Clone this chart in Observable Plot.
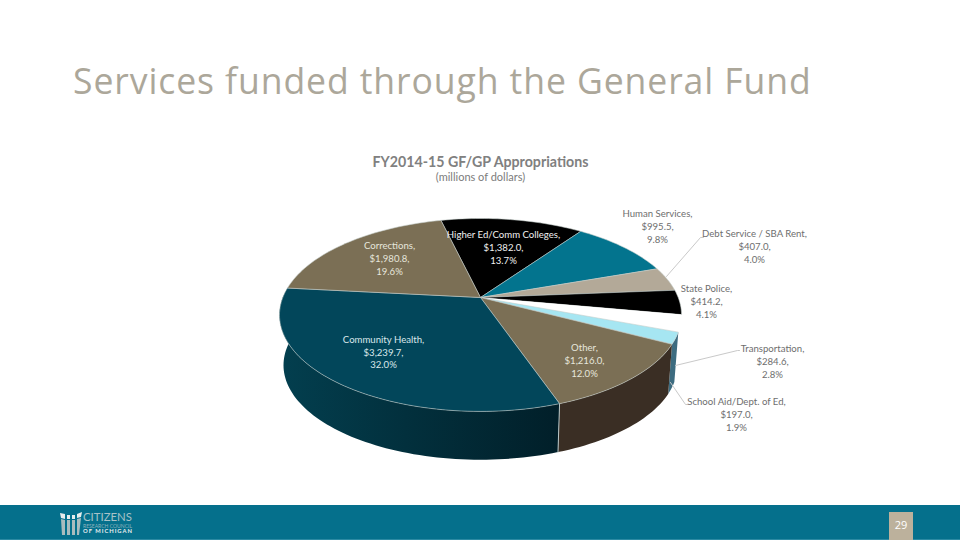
<!DOCTYPE html>
<html>
<head>
<meta charset="utf-8">
<script src="https://cdn.jsdelivr.net/npm/d3@7"></script>
<script src="https://cdn.jsdelivr.net/npm/@observablehq/plot@0.6"></script>
<style>
html,body{margin:0;padding:0;background:#fff;width:960px;height:540px;overflow:hidden}
#stage{position:relative;width:960px;height:540px}
#chart{position:absolute;left:0;top:0}
#chart svg{display:block;max-width:none}
h1{position:absolute;left:73px;top:56px;margin:0;font:400 35.6px "Open Sans",sans-serif;letter-spacing:.9px;color:#aca79a;white-space:nowrap}
#band{position:absolute;left:0;top:505px;width:960px;height:35px;background:#05708c;border-bottom:1px solid #2c8aa3;box-sizing:border-box}
#page{position:absolute;left:889px;top:512px;width:24px;height:28px;background:#bcb19c;color:#fff;font:11px "Open Sans",sans-serif;text-align:center;line-height:26px}
#logo{position:absolute;left:59px;top:511px;overflow:visible}
</style>
</head>
<body>
<div id="stage">
  <h1>Services funded through the General Fund</h1>
  <div id="band"></div>
  <div id="page">29</div>
  <svg id="logo" width="80" height="26" viewBox="0 0 80 26">
    <g fill="#a9bcbe">
      <path d="M2 8 L6 9 L6 24 L3 24Z"/>
      <path d="M8 9 L11 9 L11 24 L8 24Z"/>
      <path d="M13 9 L16 9 L16 24 L13 24Z"/>
      <path d="M18 8 L22 7 L20 24 L18 24Z"/>
    </g>
    <g fill="#e6ecec">
      <path d="M1 2 L6 3 L6 8 L2 7Z"/>
      <path d="M8 4 L11 4 L11 8 L8 8Z"/>
      <path d="M13 4 L16 4 L16 8 L13 8Z"/>
      <path d="M18 3 L23 1 L22 6 L18 7Z"/>
    </g>
    <text x="24" y="10" textLength="49" lengthAdjust="spacingAndGlyphs" font-family="Lato" font-size="10.5" fill="#a8c2c8">CITIZENS</text>
    <text x="24" y="16.8" textLength="49" lengthAdjust="spacingAndGlyphs" font-family="Lato" font-size="5" fill="#8db3bd">RESEARCH COUNCIL</text>
    <text x="24" y="22" textLength="49" font-family="Lato" font-weight="700" font-size="5.8" fill="#e9eeef">OF MICHIGAN</text>
  </svg>
  <div id="chart"></div>
</div>
<script>
// ---- data ----
const categories = ["Higher Ed/Comm Colleges","Human Services","Debt Service / SBA Rent","State Police","Transportation","School Aid/Dept. of Ed","Other","Community Health","Corrections"];
const dollars = [1382.0,995.5,407.0,414.2,284.6,197.0,1216.0,3239.7,1980.8];
const percents = [13.7,9.8,4.0,4.1,2.8,1.9,12.0,32.0,19.6];
const topColors = ["#000000","#03748e","#b3a998","#000000","#ffffff","#a6e6f2","#7b6f55","#02465a","#7b6f55"];
const wallColors = [null,null,null,null,"#ffffff","#3d6c80","#3a2e24","url(#wallGrad)",null];
const textColors = ["#f0f0f0","#6e6e6e","#6e6e6e","#6e6e6e","#6e6e6e","#6e6e6e","#e6e6dc","#d9e6ea","#e6e6dc"];
// label block centres and leader lines (page layout)
const labelX = [503,657,754,706,772,736,584,383,389];
const labelY = [246.5,225.5,245.5,300.5,360.5,413.5,359.5,351,257.5];
const leaders = [
  {name:"Debt Service / SBA Rent",x:[666,700,703],y:[276,237,237]},
  {name:"Transportation",x:[675,737,739],y:[365,350,350]},
  {name:"School Aid/Dept. of Ed",x:[670,685,687],y:[382,404,404]}
];
const chartTitle = "FY2014-15 GF/GP Appropriations";
const chartSubtitle = "(millions of dollars)";

// ---- pie projection: a tilted disc seen in perspective ----
const startDeg = -13.6, cx = 480, cy = 297, a = 197.7, b = 93.3, k = 0.181;
const depthY = 50.6, depthScale = 0.98;
const total = d3.sum(dollars);
const rad = d => d * Math.PI / 180;
function rim(deg, r = 1, lower = false) {
  const u = r * Math.sin(rad(deg)), v = -r * Math.cos(rad(deg)), w = 1 - k * v;
  const s = lower ? depthScale : 1;
  return {x: cx + s * a * u / w, y: cy + (lower ? depthY : 0) + s * b * v / w};
}
const bounds = [];
{ let acc = 0; for (const d of dollars) { bounds.push([startDeg + acc / total * 360, startDeg + (acc + d) / total * 360]); acc += d; } }
function arc(d0, d1, lower) {
  const n = Math.max(2, Math.ceil(Math.abs(d1 - d0) / 1.5)), pts = [];
  for (let i = 0; i <= n; i++) pts.push(rim(d0 + (d1 - d0) * i / n, 1, lower));
  return pts;
}
const wedge = ([d0, d1]) => [{x: cx, y: cy}, ...arc(d0, d1, false), {x: cx, y: cy}];
const wall = ([d0, d1]) => [...arc(d0, d1, false), ...arc(d1, d0, true), rim(d0)];

const gradient = () => {
  const defs = d3.create("svg:defs");
  const g = defs.append("linearGradient").attr("id", "wallGrad").attr("x1", 0).attr("x2", 1).attr("y1", 0).attr("y2", 0);
  [[0, "#033f4f"], [0.45, "#02303d"], [1, "#011f29"]].forEach(([o, c]) => g.append("stop").attr("offset", o).attr("stop-color", c));
  return defs.node();
};

const marks = [gradient];
// side walls, back to front
[7, 3, 4, 5, 6].forEach(i => {
  if (wallColors[i]) marks.push(Plot.line(wall(bounds[i]), {x: "x", y: "y", fill: wallColors[i], stroke: "none"}));
});
// light seam down the wall between Other and Community Health
const seam = bounds[6][1];
marks.push(Plot.line([rim(seam), rim(seam, 1, true)], {x: "x", y: "y", stroke: "#b9c6c6", strokeWidth: 1}));
// top surface
categories.forEach((c, i) => {
  marks.push(Plot.line(wedge(bounds[i]), {x: "x", y: "y", fill: topColors[i], stroke: "#c4cdca", strokeWidth: i === 4 ? 0 : 0.7, strokeOpacity: 0.8, title: () => c}));
});
// leaders
leaders.forEach(l => {
  marks.push(Plot.line(l.x.map((x, i) => ({x, y: l.y[i]})), {x: "x", y: "y", stroke: "#c9c9c9", strokeWidth: 1}));
});
// labels
const labels = categories.map((c, i) => ({
  text: `${c},\n$${d3.format(",.1f")(dollars[i])},\n${percents[i].toFixed(1)}%`,
  x: labelX[i], y: labelY[i], color: textColors[i]
}));
labels.forEach(l => marks.push(Plot.text([l], {
  x: "x", y: "y", text: "text", fill: l.color, fontSize: 9.6, lineHeight: 1.34, fontFamily: "Lato", textAnchor: "middle", letterSpacing: "0.2px"
})));
marks.push(Plot.text([chartTitle], {frameAnchor: "top-left", dx: 480, dy: 156, text: d => d, fontSize: 14.2, fontFamily: "Lato", fontWeight: 700, fill: "#808080", textAnchor: "middle"}));
marks.push(Plot.text([chartSubtitle], {frameAnchor: "top-left", dx: 480, dy: 172.5, text: d => d, fontSize: 11, fontFamily: "Lato", fill: "#7c7c7c", textAnchor: "middle"}));

const plot = Plot.plot({
  width: 960, height: 540, margin: 0,
  style: {background: "transparent"},
  x: {domain: [0, 960], range: [0, 960], axis: null},
  y: {domain: [0, 540], range: [0, 540], axis: null},
  marks
});
document.getElementById("chart").appendChild(plot);
</script>
</body>
</html>
